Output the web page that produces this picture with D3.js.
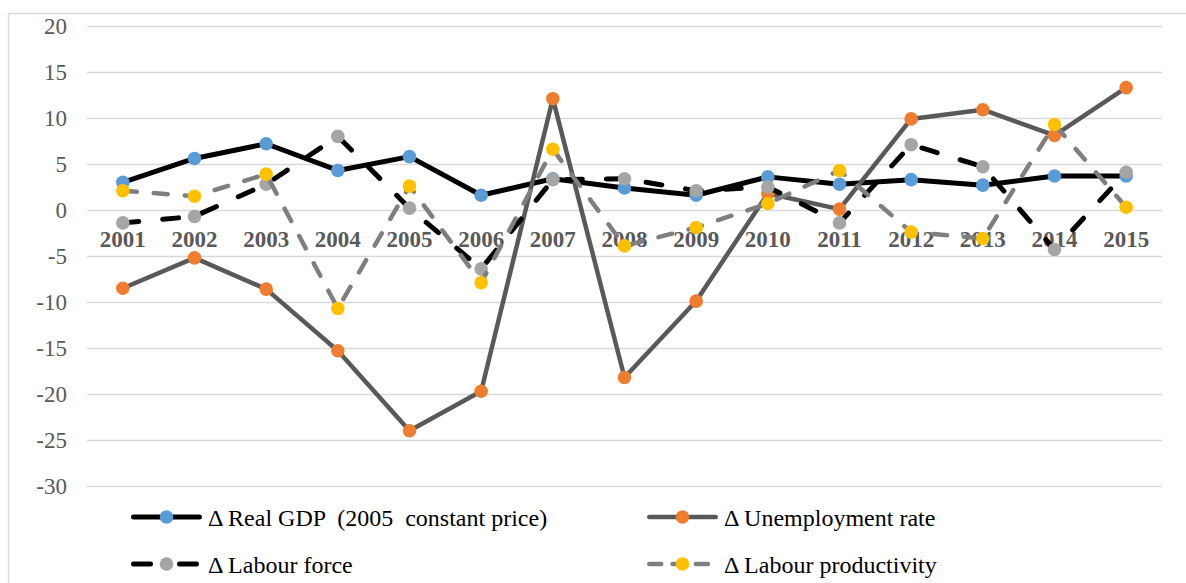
<!DOCTYPE html>
<html>
<head>
<meta charset="utf-8">
<script src="https://cdn.jsdelivr.net/npm/d3@7"></script>
<style>
  html, body { margin: 0; padding: 0; background: #fff; }
  svg { display: block; }
  .legend-label { white-space: pre; }
</style>
</head>
<body>
<div id="chart"></div>
<script>
const years = ['2001','2002','2003','2004','2005','2006','2007','2008','2009','2010','2011','2012','2013','2014','2015'];
const realGdp = [3.0, 5.6, 7.2, 4.3, 5.8, 1.6, 3.4, 2.4, 1.6, 3.6, 2.8, 3.3, 2.7, 3.7, 3.7];
const unemployment = [-8.5, -5.2, -8.6, -15.3, -24.0, -19.7, 12.1, -18.2, -9.9, 1.8, 0.1, 9.9, 10.9, 8.1, 13.3];
const labourForce = [-1.4, -0.7, 2.8, 8.0, 0.2, -6.4, 3.3, 3.4, 2.1, 2.5, -1.4, 7.1, 4.7, -4.3, 4.1];
const labourProductivity = [2.1, 1.5, 3.9, -10.7, 2.6, -7.9, 6.6, -3.9, -1.9, 0.7, 4.3, -2.4, -3.1, 9.3, 0.3];
const yTicks = [20, 15, 10, 5, 0, -5, -10, -15, -20, -25, -30];

const series = [
  { name: '\u0394 Real GDP  (2005  constant price)', values: realGdp, line: '#000000', marker: '#5B9BD5', width: 5, dash: null, legendDash: null },
  { name: '\u0394 Unemployment rate', values: unemployment, line: '#595959', marker: '#ED7D31', width: 4.5, dash: null, legendDash: null },
  { name: '\u0394 Labour force', values: labourForce, line: '#000000', marker: '#A5A5A5', width: 5, dash: '16,24', legendDash: '17,29' },
  { name: '\u0394 Labour productivity', values: labourProductivity, line: '#7F7F7F', marker: '#FFC000', width: 4.5, dash: '14,17', legendDash: '12,11.3' }
];

const width = 1186, height = 583;
const plot = { left: 87, right: 1162, top: 26, bottom: 486 };

const svg = d3.select('#chart').append('svg')
  .attr('width', width)
  .attr('height', height);

// outer chart border
svg.append('rect')
  .attr('x', 8.5).attr('y', 13.5)
  .attr('width', width).attr('height', height)
  .attr('fill', 'none')
  .attr('stroke', '#D9D9D9')
  .attr('stroke-width', 1.5);

const x = d3.scaleBand().domain(years).range([plot.left, plot.right]);
const cx = d => x(d) + x.bandwidth() / 2;
const y = d3.scaleLinear().domain([-30, 20]).range([plot.bottom, plot.top]);

// gridlines
svg.append('g')
  .attr('transform', `translate(${plot.left},0)`)
  .call(d3.axisLeft(y).tickValues(yTicks).tickSize(-(plot.right - plot.left)).tickFormat(''))
  .call(g => g.select('.domain').remove())
  .selectAll('line')
  .attr('stroke', '#D9D9D9')
  .attr('stroke-width', 1.5);

// y tick labels
svg.append('g')
  .selectAll('text')
  .data(yTicks)
  .enter()
  .append('text')
  .attr('x', 67)
  .attr('y', d => y(d))
  .attr('dy', '0.35em')
  .attr('text-anchor', 'end')
  .attr('font-family', '"Liberation Serif", "Times New Roman", serif')
  .attr('font-size', '23px')
  .attr('fill', '#595959')
  .text(d => d);

// category labels (next to the zero line)
svg.append('g')
  .selectAll('text')
  .data(years)
  .enter()
  .append('text')
  .attr('x', d => cx(d))
  .attr('y', y(0) + 37)
  .attr('text-anchor', 'middle')
  .attr('font-family', '"Liberation Serif", "Times New Roman", serif')
  .attr('font-weight', 'bold')
  .attr('font-size', '23px')
  .attr('fill', '#595959')
  .text(d => d);

const line = d3.line()
  .x((d, i) => cx(years[i]))
  .y(d => y(d));

series.forEach(s => {
  svg.append('path')
    .datum(s.values)
    .attr('d', line)
    .attr('fill', 'none')
    .attr('stroke', s.line)
    .attr('stroke-width', s.width)
    .attr('stroke-linejoin', 'round')
    .attr('stroke-linecap', 'round')
    .attr('stroke-dasharray', s.dash);

  svg.append('g')
    .selectAll('circle')
    .data(s.values)
    .enter()
    .append('circle')
    .attr('cx', (d, i) => cx(years[i]))
    .attr('cy', d => y(d))
    .attr('r', 6.8)
    .attr('fill', s.marker);
});

// legend
const legendPos = [
  { x: 131, y: 517 },
  { x: 647, y: 517 },
  { x: 131, y: 564 },
  { x: 647, y: 564 }
];

series.forEach((s, i) => {
  const p = legendPos[i];
  const g = svg.append('g').attr('transform', `translate(${p.x},${p.y})`);
  g.append('line')
    .attr('x1', s.width / 2).attr('x2', 71 - s.width / 2)
    .attr('y1', 0).attr('y2', 0)
    .attr('stroke', s.line)
    .attr('stroke-width', s.width)
    .attr('stroke-linecap', 'round')
    .attr('stroke-dasharray', s.legendDash);
  g.append('circle')
    .attr('cx', 35.5).attr('cy', 0)
    .attr('r', 6.8)
    .attr('fill', s.marker);
  g.append('text')
    .attr('class', 'legend-label')
    .attr('x', 77)
    .attr('y', 8.5)
    .attr('font-family', '"Liberation Serif", "Times New Roman", serif')
    .attr('font-size', '24px')
    .attr('fill', '#000')
    .text(s.name);
});
</script>
</body>
</html>
